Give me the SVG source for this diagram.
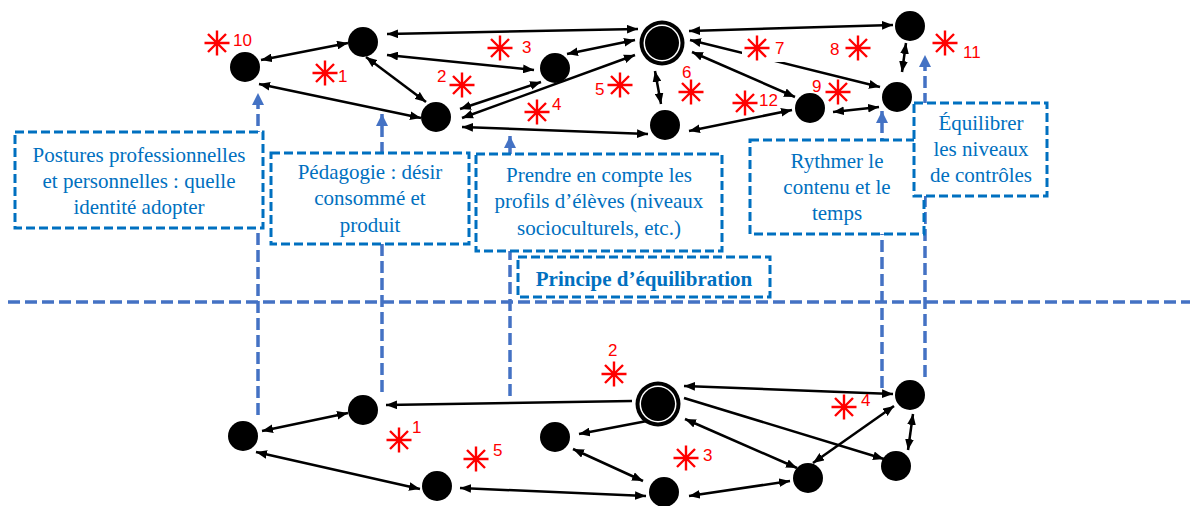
<svg xmlns="http://www.w3.org/2000/svg" xmlns:xlink="http://www.w3.org/1999/xlink" width="1190" height="506" viewBox="0 0 1190 506">
<style>
.n{fill:#000}
.c{stroke:#000;stroke-width:2.5;fill:none}
.bi{marker-start:url(#ah);marker-end:url(#ah)}
.un{marker-end:url(#ah)}
.st{stroke:#FF0000;stroke-width:2.4;fill:none}
.num{font-family:"Liberation Sans",Arial,sans-serif;font-size:17px;fill:#FF0000}
.box{fill:#fff;stroke:#0070C0;stroke-width:3;stroke-dasharray:9 4}
.bt{font-family:"Liberation Serif","Times New Roman",serif;font-size:21px;fill:#0070C0;text-anchor:middle}
.bold{font-weight:bold}
.dl{stroke:#4472C4;stroke-width:3.5;stroke-dasharray:12 5;fill:none}
.up{marker-end:url(#bh)}
</style>
<defs>
<marker id="ah" viewBox="0 0 10 8" refX="10" refY="4" markerWidth="11" markerHeight="9" markerUnits="userSpaceOnUse" orient="auto-start-reverse"><path d="M0,0 L10,4 L0,8 z" fill="#000"/></marker>
<marker id="bh" viewBox="0 0 12 12" refX="12" refY="6" markerWidth="12" markerHeight="12" markerUnits="userSpaceOnUse" orient="auto"><path d="M0,0 L12,6 L0,12 z" fill="#4472C4"/></marker>
<g id="star"><path d="M-12.5,0 H12.5 M0,-12.5 V12.5 M-9,-9 L9,9 M-9,9 L9,-9"/></g>
</defs>
<rect width="1190" height="506" fill="#fff"/>

<g id="separator">
<line class="dl" x1="8" y1="302" x2="1190" y2="302"/>
</g>

<g id="guides">
<line class="dl up" x1="258" y1="415" x2="258" y2="93"/>
<line class="dl up" x1="382" y1="392" x2="382" y2="114"/>
<line class="dl up" x1="510" y1="396" x2="510" y2="136"/>
<line class="dl up" x1="882" y1="388" x2="882" y2="111"/>
<line class="dl up" x1="925" y1="377" x2="925" y2="55"/>
</g>

<g id="boxes">
<g id="box-postures"><rect class="box" x="15" y="132" width="248" height="96"/>
<text class="bt" x="139" y="162">Postures professionnelles</text>
<text class="bt" x="139" y="188">et personnelles : quelle</text>
<text class="bt" x="139" y="214">identité adopter</text></g>
<g id="box-pedagogie"><rect class="box" x="271" y="153" width="198" height="91"/>
<text class="bt" x="370" y="179">Pédagogie : désir</text>
<text class="bt" x="370" y="205">consommé et</text>
<text class="bt" x="370" y="232">produit</text></g>
<g id="box-profils"><rect class="box" x="476" y="154" width="246" height="97"/>
<text class="bt" x="599" y="182">Prendre en compte les</text>
<text class="bt" x="599" y="208">profils d’élèves (niveaux</text>
<text class="bt" x="599" y="235">socioculturels, etc.)</text></g>
<g id="box-principe"><rect class="box" x="518" y="257" width="252" height="40"/>
<text class="bt bold" x="644" y="286">Principe d’équilibration</text></g>
<g id="box-rythmer"><rect class="box" x="750" y="140" width="174" height="94"/>
<text class="bt" x="837" y="168">Rythmer le</text>
<text class="bt" x="837" y="194">contenu et le</text>
<text class="bt" x="837" y="220">temps</text></g>
<g id="box-equilibrer"><rect class="box" x="914" y="103" width="133" height="93"/>
<text class="bt" x="981" y="130">Équilibrer</text>
<text class="bt" x="981" y="156">les niveaux</text>
<text class="bt" x="981" y="182">de contrôles</text></g>
</g>

<g id="connectors">
<line class="c bi" x1="261" y1="60" x2="348" y2="43"/>
<line class="c bi" x1="259" y1="84" x2="421" y2="118"/>
<line class="c bi" x1="366" y1="57" x2="426" y2="102"/>
<line class="c bi" x1="387" y1="34" x2="638" y2="29"/>
<line class="c bi" x1="387" y1="55" x2="534" y2="70"/>
<line class="c bi" x1="567" y1="54" x2="635" y2="40"/>
<line class="c bi" x1="460" y1="109" x2="541" y2="82"/>
<line class="c bi" x1="462" y1="118" x2="635" y2="55"/>
<line class="c bi" x1="462" y1="127" x2="648" y2="134"/>
<line class="c bi" x1="655" y1="71" x2="661" y2="104"/>
<line class="c bi" x1="689" y1="31" x2="893" y2="25"/>
<line class="c bi" x1="690" y1="40" x2="880" y2="87"/>
<line class="c bi" x1="692" y1="52" x2="795" y2="97"/>
<line class="c bi" x1="833" y1="112" x2="879" y2="107"/>
<line class="c bi" x1="689" y1="131" x2="792" y2="110"/>
<line class="c bi" x1="902" y1="72" x2="906" y2="43"/>

<line class="c un" x1="632" y1="401" x2="386" y2="405"/>
<line class="c bi" x1="262" y1="431" x2="348" y2="413"/>
<line class="c bi" x1="256" y1="452" x2="420" y2="489"/>
<line class="c un" x1="647" y1="421" x2="579" y2="434"/>
<line class="c bi" x1="573" y1="449" x2="643" y2="481"/>
<line class="c bi" x1="460" y1="488" x2="646" y2="496"/>
<line class="c bi" x1="685" y1="419" x2="797" y2="468"/>
<line class="c bi" x1="689" y1="496" x2="790" y2="481"/>
<line class="c un" x1="684" y1="398" x2="884" y2="459"/>
<line class="c bi" x1="684" y1="386" x2="893" y2="394"/>
<line class="c bi" x1="813" y1="463" x2="894" y2="406"/>
<line class="c bi" x1="913" y1="414" x2="908" y2="450"/>
</g>

<g id="nodes">
<circle id="t1" class="n" cx="245" cy="67" r="15"/>
<circle id="t2" class="n" cx="363" cy="42" r="15"/>
<circle id="t3" class="n" cx="436" cy="117" r="15"/>
<circle id="t4" class="n" cx="555" cy="68" r="15"/>
<g id="t-center"><circle cx="662" cy="43" r="22.5" fill="#000"/><circle cx="662" cy="43" r="18.5" fill="#fff"/><circle cx="662" cy="43" r="17" fill="#000"/></g>
<circle id="t6" class="n" cx="665" cy="125" r="15"/>
<circle id="t7" class="n" cx="810" cy="108" r="15"/>
<circle id="t8" class="n" cx="897" cy="97" r="15"/>
<circle id="t9" class="n" cx="910" cy="26" r="15"/>

<circle id="b1" class="n" cx="243" cy="436" r="15"/>
<circle id="b2" class="n" cx="363" cy="410" r="15"/>
<circle id="b3" class="n" cx="437" cy="486" r="15"/>
<circle id="b4" class="n" cx="555" cy="437" r="15"/>
<g id="b-center"><circle cx="658" cy="404" r="22.5" fill="#000"/><circle cx="658" cy="404" r="18.5" fill="#fff"/><circle cx="658" cy="404" r="17" fill="#000"/></g>
<circle id="b6" class="n" cx="664" cy="492" r="15"/>
<circle id="b7" class="n" cx="808" cy="478" r="15"/>
<circle id="b8" class="n" cx="896" cy="466" r="15"/>
<circle id="b9" class="n" cx="910" cy="395" r="15"/>
</g>

<g id="markers">
<rect x="742" y="36" width="50" height="26" fill="#fff"/>
<use href="#star" class="st" x="217" y="43"/><text class="num" x="233" y="46">10</text>
<use href="#star" class="st" x="325" y="73"/><text class="num" x="338" y="82">1</text>
<use href="#star" class="st" x="462" y="85"/><text class="num" x="437" y="82">2</text>
<use href="#star" class="st" x="500" y="48"/><text class="num" x="522" y="53">3</text>
<use href="#star" class="st" x="537" y="112"/><text class="num" x="552" y="110">4</text>
<use href="#star" class="st" x="620" y="85"/><text class="num" x="595" y="95">5</text>
<use href="#star" class="st" x="691" y="92"/><text class="num" x="682" y="78">6</text>
<use href="#star" class="st" x="757" y="48"/><text class="num" x="775" y="54">7</text>
<use href="#star" class="st" x="858" y="48"/><text class="num" x="830" y="55">8</text>
<use href="#star" class="st" x="838" y="92"/><text class="num" x="812" y="92">9</text>
<use href="#star" class="st" x="745" y="103"/><text class="num" x="759" y="106">12</text>
<use href="#star" class="st" x="945" y="43"/><text class="num" x="963" y="58">11</text>

<use href="#star" class="st" x="399" y="440"/><text class="num" x="412" y="433">1</text>
<use href="#star" class="st" x="476" y="459"/><text class="num" x="493" y="456">5</text>
<use href="#star" class="st" x="614" y="374"/><text class="num" x="608" y="356">2</text>
<use href="#star" class="st" x="686" y="458"/><text class="num" x="703" y="461">3</text>
<use href="#star" class="st" x="844" y="407"/><text class="num" x="861" y="406">4</text>
</g>
</svg>
